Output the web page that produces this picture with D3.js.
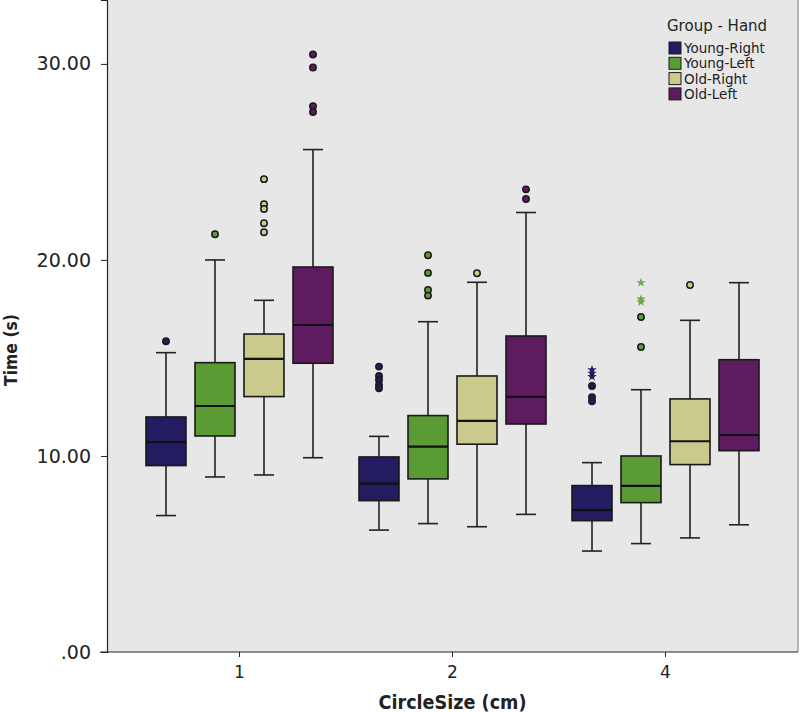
<!DOCTYPE html>
<html>
<head>
<meta charset="utf-8">
<script src="https://cdn.jsdelivr.net/npm/d3@7"></script>
<style>
  body { margin: 0; background: #fff; }
  svg text { font-family: "DejaVu Sans", Verdana, sans-serif; }
</style>
</head>
<body>
<svg id="chart"></svg>
<script>
// Chart data
const sizes = ["1", "2", "4"];
const groups = ["Young-Right", "Young-Left", "Old-Right", "Old-Left"];
const colors = ["#241c61", "#5a9b34", "#c9ca8c", "#5e1b5f"];
const yTicks = [0, 10, 20, 30];

// one row per circle size, one column per group
const whiskerLow  = [[6.96, 8.93, 9.03, 9.91], [6.22, 6.55, 6.39, 7.02], [5.15, 5.53, 5.82, 6.49]];
const q1          = [[9.51, 11.02, 13.03, 14.73], [7.72, 8.83, 10.60, 11.63], [6.70, 7.62, 9.56, 10.27]];
const medians     = [[10.71, 12.55, 14.95, 16.68], [8.59, 10.48, 11.79, 13.01], [7.24, 8.47, 10.75, 11.07]];
const q3          = [[11.99, 14.76, 16.22, 19.64], [9.95, 12.06, 14.08, 16.12], [8.49, 10.00, 12.91, 14.91]];
const whiskerHigh = [[15.27, 20.00, 17.94, 25.63], [11.00, 16.85, 18.86, 22.42], [9.66, 13.38, 16.92, 18.84]];

// outliers: [size index, group index, value]
const outliers = [
  [0, 0, 15.85], [0, 1, 21.31],
  [0, 2, 24.12], [0, 2, 22.84], [0, 2, 22.60], [0, 2, 21.87], [0, 2, 21.41],
  [0, 3, 30.48], [0, 3, 29.82], [0, 3, 27.84], [0, 3, 27.55],
  [1, 0, 14.56], [1, 0, 14.08], [1, 0, 13.88], [1, 0, 13.62], [1, 0, 13.45],
  [1, 1, 20.24], [1, 1, 19.34], [1, 1, 18.47], [1, 1, 18.18],
  [1, 2, 19.32], [1, 3, 23.60], [1, 3, 23.11],
  [2, 0, 13.57], [2, 0, 13.00], [2, 0, 12.79],
  [2, 1, 17.09], [2, 1, 15.56], [2, 2, 18.72]
];
// extreme values (stars)
const extremes = [
  [2, 0, 14.39], [2, 0, 14.22], [2, 0, 14.05],
  [2, 1, 18.84], [2, 1, 18.00], [2, 1, 17.86]
];

const width = 800;
const height = 712;
const margin = { top: 0, right: 2, bottom: 60, left: 107 };

const svg = d3.select("#chart")
  .attr("width", width)
  .attr("height", height);

const x = d3.scaleBand()
  .domain(sizes)
  .range([margin.left, width - margin.right])
  .paddingInner(0)
  .paddingOuter(0.122);

const clusterW = 187;
const xInner = d3.scaleBand()
  .domain(d3.range(groups.length))
  .range([0, clusterW])
  .paddingInner(0.1837);

const y = d3.scaleLinear()
  .domain([0, 33.26])
  .range([height - margin.bottom, margin.top]);

const groupX = (s, g) => x(sizes[s]) + (x.bandwidth() - clusterW) / 2 + xInner(g);
const boxW = xInner.bandwidth();

// Plot background
svg.append("rect")
  .attr("x", margin.left)
  .attr("y", margin.top)
  .attr("width", width - margin.right - margin.left)
  .attr("height", y(0) - margin.top)
  .attr("fill", "#e7e7e7");

svg.append("line")
  .attr("x1", width - margin.right).attr("x2", width - margin.right)
  .attr("y1", margin.top).attr("y2", y(0))
  .attr("stroke", "#777").attr("stroke-width", 1);

// Boxes
const cells = [];
sizes.forEach((s, si) => groups.forEach((g, gi) => cells.push({ si, gi })));

const box = svg.append("g").selectAll("g")
  .data(cells)
  .join("g");

box.append("line")
  .attr("x1", d => groupX(d.si, d.gi) + boxW / 2)
  .attr("x2", d => groupX(d.si, d.gi) + boxW / 2)
  .attr("y1", d => y(whiskerLow[d.si][d.gi]))
  .attr("y2", d => y(whiskerHigh[d.si][d.gi]))
  .attr("stroke", "#222").attr("stroke-width", 1.6);

[whiskerLow, whiskerHigh].forEach(arr => {
  box.append("line")
    .attr("x1", d => groupX(d.si, d.gi) + boxW / 2 - 10)
    .attr("x2", d => groupX(d.si, d.gi) + boxW / 2 + 10)
    .attr("y1", d => y(arr[d.si][d.gi]))
    .attr("y2", d => y(arr[d.si][d.gi]))
    .attr("stroke", "#222").attr("stroke-width", 1.6);
});

box.append("rect")
  .attr("x", d => groupX(d.si, d.gi))
  .attr("y", d => y(q3[d.si][d.gi]))
  .attr("width", boxW)
  .attr("height", d => y(q1[d.si][d.gi]) - y(q3[d.si][d.gi]))
  .attr("fill", d => colors[d.gi])
  .attr("stroke", "#1a1a1a").attr("stroke-width", 1.6);

box.append("line")
  .attr("x1", d => groupX(d.si, d.gi))
  .attr("x2", d => groupX(d.si, d.gi) + boxW)
  .attr("y1", d => y(medians[d.si][d.gi]))
  .attr("y2", d => y(medians[d.si][d.gi]))
  .attr("stroke", "#111").attr("stroke-width", 2.2);

// Outliers
svg.append("g").selectAll("circle")
  .data(outliers)
  .join("circle")
  .attr("cx", d => groupX(d[0], d[1]) + boxW / 2)
  .attr("cy", d => y(d[2]))
  .attr("r", 3.2)
  .attr("fill", d => colors[d[1]])
  .attr("stroke", "#1a1a1a").attr("stroke-width", 1.5);

svg.append("g").selectAll("path")
  .data(extremes)
  .join("path")
  .attr("transform", d => `translate(${groupX(d[0], d[1]) + boxW / 2},${y(d[2])})`)
  .attr("d", d3.symbol(d3.symbolStar, 28))
  .attr("fill", d => d[1] === 1 ? "#6aa84a" : colors[d[1]]);

// Axes
const yAxis = d3.axisLeft(y)
  .tickValues(yTicks)
  .tickSize(6)
  .tickFormat(d => d === 0 ? ".00" : d3.format(".2f")(d));

svg.append("g")
  .attr("transform", `translate(${margin.left},0)`)
  .call(yAxis)
  .call(g => g.select(".domain").attr("stroke", "#222").attr("stroke-width", 1.2))
  .call(g => g.selectAll(".tick line").attr("stroke", "#222"))
  .call(g => g.selectAll(".tick text")
    .attr("x", -16)
    .attr("font-size", 19)
    .attr("font-family", "DejaVu Sans")
    .attr("fill", "#222"));

const xAxis = d3.axisBottom(x).tickSize(5).tickSizeOuter(0);

svg.append("g")
  .attr("transform", `translate(0,${y(0)})`)
  .call(xAxis)
  .call(g => g.select(".domain").remove())
  .call(g => g.selectAll(".tick line").attr("stroke", "#222"))
  .call(g => g.selectAll(".tick text")
    .attr("y", 26)
    .attr("dy", 0)
    .attr("font-size", 17)
    .attr("font-family", "DejaVu Sans")
    .attr("fill", "#222"));

svg.append("line")
  .attr("x1", margin.left - 7).attr("x2", width - margin.right)
  .attr("y1", y(0)).attr("y2", y(0))
  .attr("stroke", "#222").attr("stroke-width", 1.2);

// Axis titles
svg.append("text")
  .attr("x", (margin.left + width - margin.right) / 2)
  .attr("y", 709)
  .attr("text-anchor", "middle")
  .attr("font-size", 19)
  .attr("font-weight", "bold")
  .attr("textLength", 148)
  .attr("lengthAdjust", "spacingAndGlyphs")
  .attr("fill", "#222")
  .text("CircleSize (cm)");

svg.append("text")
  .attr("transform", `translate(17,${y(0) / 2 + 24}) rotate(-90)`)
  .attr("text-anchor", "middle")
  .attr("font-size", 18)
  .attr("font-weight", "bold")
  .attr("textLength", 72)
  .attr("lengthAdjust", "spacingAndGlyphs")
  .attr("fill", "#222")
  .text("Time (s)");

// Legend
const legend = svg.append("g")
  .attr("transform", "translate(669,0)");

legend.append("text")
  .attr("x", -2)
  .attr("y", 31)
  .attr("font-size", 15)
  .attr("fill", "#222")
  .text("Group - Hand");

const item = legend.selectAll(".item")
  .data(groups)
  .join("g")
  .attr("class", "item")
  .attr("transform", (d, i) => `translate(0,${42 + i * 15.3})`);

item.append("rect")
  .attr("width", 12)
  .attr("height", 12)
  .attr("fill", (d, i) => colors[i])
  .attr("stroke", "#1a1a1a").attr("stroke-width", 1);

item.append("text")
  .attr("x", 15)
  .attr("y", 11)
  .attr("font-size", 13.5)
  .attr("fill", "#222")
  .text(d => d);
</script>
</body>
</html>
